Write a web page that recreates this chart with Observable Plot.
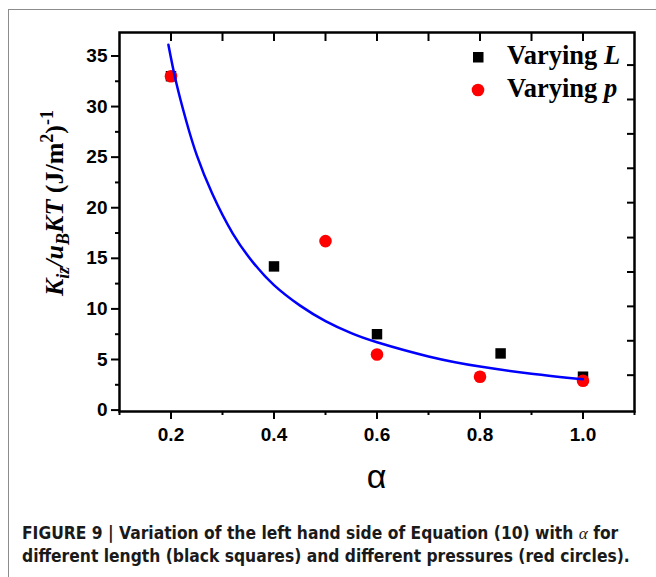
<!DOCTYPE html>
<html><head><meta charset="utf-8">
<script src="https://cdn.jsdelivr.net/npm/d3@7"></script>
<script src="https://cdn.jsdelivr.net/npm/@observablehq/plot@0.6"></script>
<style>
body{margin:0;background:#fff;width:656px;height:577px;position:relative;overflow:hidden}
#frame{position:absolute;left:8px;top:9px;width:700px;height:600px;border-top:1px solid #8c8c8c;border-left:1px solid #8c8c8c}
#chart{position:absolute;left:0;top:0}
#caption{position:absolute;left:22px;top:522px;width:634px;white-space:nowrap;font-family:"DejaVu Sans Condensed","DejaVu Sans",sans-serif;font-stretch:condensed;font-weight:bold;font-size:17.3px;line-height:23px;color:#1a1a1a}
#caption i{font-family:"Liberation Serif",serif;font-weight:normal}
</style></head><body>
<div id="frame"></div><div id="chart"></div>
<div id="caption">FIGURE 9 | Variation of the left hand side of Equation (10) with <i>α</i> for<br>different length (black squares) and different pressures (red circles).</div>
<script>
// Data
const xL = [0.2, 0.4, 0.6, 0.84, 1.0];
const yL = [33.0, 14.2, 7.5, 5.6, 3.3];
const xP = [0.2, 0.5, 0.6, 0.8, 1.0];
const yP = [33.0, 16.7, 5.5, 3.3, 2.9];
const fitX = [0.195, 0.21, 0.23, 0.25, 0.28, 0.32, 0.36, 0.4, 0.45, 0.5, 0.55, 0.6, 0.7, 0.8, 0.9, 1.0];
const fitY = [36.1, 32.4, 28.5, 25.2, 21.4, 17.45, 14.55, 12.35, 10.35, 8.8, 7.6, 6.7, 5.3, 4.3, 3.6, 3.05];
const xMajorTicks = [0.2, 0.4, 0.6, 0.8, 1.0];
const xMinorTicks = [0.1, 0.3, 0.5, 0.7, 0.9, 1.1];
const xTopTicks = [0.2, 0.3, 0.4, 0.5, 0.6, 0.7, 0.8, 0.9, 1.0];
const yMajorTicks = [0, 5, 10, 15, 20, 25, 30, 35];
const yMinorTicks = [2.5, 7.5, 12.5, 17.5, 22.5, 27.5, 32.5];
const yRightTicks = [3.45, 6.85, 10.25, 13.65, 17.05, 20.5, 23.9, 27.3, 30.7, 34.1];
const legendLabels = ["Varying ", "L", "Varying ", "p"];
const xLabel = "α";

const dataL = xL.map((x, i) => ({x, y: yL[i]}));
const dataP = xP.map((x, i) => ({x, y: yP[i]}));
const fit = fitX.map((x, i) => ({x, y: fitY[i]}));

const tickFont = {fontFamily: "'Liberation Sans', Arial, sans-serif", fontWeight: "bold", fontSize: 19};
const blank = () => "";

const plot = Plot.plot({
  width: 656,
  height: 505,
  marginTop: 32,
  marginLeft: 119,
  marginRight: 22,
  marginBottom: 94,
  style: {background: "transparent", color: "black", overflow: "visible", fontFamily: "'Liberation Sans', Arial, sans-serif"},
  x: {domain: [0.1, 1.1]},
  y: {domain: [-0.14, 37.32]},
  marks: [
    Plot.axisX(xMajorTicks, {anchor: "bottom", tickSize: 8, tickPadding: 8, strokeWidth: 2, tickFormat: d => d.toFixed(1), label: null, ...tickFont}),
    Plot.axisX(xMinorTicks, {anchor: "bottom", tickSize: 4, strokeWidth: 2, tickFormat: blank, label: null}),
    Plot.axisX(xTopTicks, {anchor: "top", tickSize: -8, strokeWidth: 2, tickFormat: blank, label: null}),
    Plot.axisY(yMajorTicks, {anchor: "left", tickSize: 8, tickPadding: 4, strokeWidth: 2, tickFormat: d => String(d), label: null, ...tickFont}),
    Plot.axisY(yMinorTicks, {anchor: "left", tickSize: 4, strokeWidth: 2, tickFormat: blank, label: null}),
    Plot.axisY(yRightTicks, {anchor: "right", tickSize: -8, strokeWidth: 2, tickFormat: blank, label: null}),
    Plot.dot(dataL, {x: "x", y: "y", symbol: "square", fill: "black", r: 5.9}),
    Plot.dot(dataP, {x: "x", y: "y", symbol: "circle", fill: "#ff0000", r: 6.3}),
    Plot.line(fit, {x: "x", y: "y", stroke: "#0000ff", strokeWidth: 2.5, curve: "natural"}),
    Plot.frame({stroke: "black", strokeWidth: 2.5})
  ]
});
document.getElementById("chart").appendChild(plot);

const svg = d3.select(plot);
const sx = plot.scale("x");

// x axis label
svg.append("text")
  .attr("x", sx.apply(0.6)).attr("y", 488)
  .attr("text-anchor", "middle")
  .attr("font-family", "'Liberation Sans', Arial, sans-serif")
  .attr("font-size", 34)
  .attr("fill", "black")
  .text(xLabel);

// y axis label
const yl = svg.append("text")
  .attr("transform", `translate(63,203) rotate(-90)`)
  .attr("text-anchor", "middle")
  .attr("font-family", "'Liberation Serif', 'Times New Roman', serif")
  .attr("font-weight", "bold")
  .attr("font-size", 26)
  .attr("fill", "black");
yl.append("tspan").attr("font-style", "italic").text("K");
yl.append("tspan").attr("font-style", "italic").attr("font-size", 18).attr("dy", 6).text("iz");
yl.append("tspan").attr("font-style", "italic").attr("dy", -6).text("/u");
yl.append("tspan").attr("font-style", "italic").attr("font-size", 18).attr("dy", 6).text("B");
yl.append("tspan").attr("font-style", "italic").attr("dy", -6).text("KT");
yl.append("tspan").text(" (J/m");
yl.append("tspan").attr("font-size", 18).attr("dy", -10).text("2");
yl.append("tspan").attr("dy", 10).text(")");
yl.append("tspan").attr("font-size", 18).attr("dy", -10).text("-1");

// legend
const lg = svg.append("g")
  .attr("font-family", "'Liberation Serif', 'Times New Roman', serif")
  .attr("font-weight", "bold").attr("font-size", 26.5)
  .attr("text-anchor", "start").attr("fill", "black");
lg.append("rect").attr("x", 473).attr("y", 52).attr("width", 10.5).attr("height", 10.5).attr("fill", "black");
lg.append("circle").attr("cx", 478).attr("cy", 90).attr("r", 6.3).attr("fill", "#ff0000");
const t1 = lg.append("text").attr("x", 507).attr("y", 64);
t1.append("tspan").text(legendLabels[0]);
t1.append("tspan").attr("font-style", "italic").text(legendLabels[1]);
const t2 = lg.append("text").attr("x", 507).attr("y", 97);
t2.append("tspan").text(legendLabels[2]);
t2.append("tspan").attr("font-style", "italic").text(legendLabels[3]);
</script>
</body></html>
